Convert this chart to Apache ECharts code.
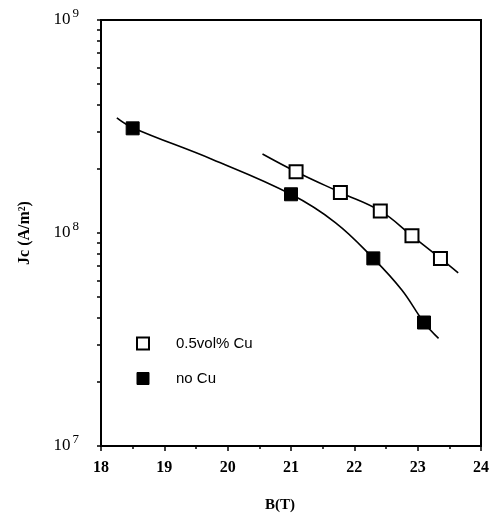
<!DOCTYPE html>
<html>
<head>
<meta charset="utf-8">
<script src="https://cdn.jsdelivr.net/npm/echarts@6/dist/echarts.min.js"></script>
<style>
  html, body { margin: 0; padding: 0; background: #fff; }
  #chart { width: 492px; height: 519px; }
</style>
</head>
<body>
<div id="chart"></div>
<script>
// Measured critical current density vs. field
const noCuB  = [18.5, 21.0, 22.3, 23.1];
const noCuJc = [3.1e8, 1.52e8, 7.6e7, 3.8e7];
const cuB    = [21.08, 21.78, 22.41, 22.91, 23.36];
const cuJc   = [1.94e8, 1.55e8, 1.27e8, 9.7e7, 7.6e7];

// Hand-drawn fit curves through each set
const noCuFitB  = [18.25, 18.5, 19.75, 21.0, 21.7, 22.3, 22.75, 23.1, 23.33];
const noCuFitJc = [3.47e8, 3.12e8, 2.22e8, 1.52e8, 1.12e8, 7.6e7, 5.4e7, 3.8e7, 3.2e7];
const cuFitB    = [20.55, 21.08, 21.78, 22.41, 22.91, 23.36, 23.64];
const cuFitJc   = [2.35e8, 1.94e8, 1.55e8, 1.27e8, 9.7e7, 7.6e7, 6.5e7];

// Axis ticks
const xTicks = [18, 19, 20, 21, 22, 23, 24];
const yMajor = [1e7, 1e8, 1e9];
const yMinor = [2e7, 3e7, 4e7, 5e7, 6e7, 7e7, 8e7, 9e7, 2e8, 3e8, 4e8, 5e8, 6e8, 7e8, 8e8, 9e8];

const serif = '"Liberation Serif", "DejaVu Serif", serif';
const sans = '"Liberation Sans", Arial, sans-serif';

const pair = (xs, ys) => xs.map((x, i) => [x, ys[i]]);

const chart = echarts.init(document.getElementById('chart'), null, { renderer: 'canvas' });

chart.setOption({
  backgroundColor: '#fff',
  animation: false,
  grid: {
    left: 101, right: 11, top: 20, bottom: 73,
    show: true, borderColor: '#000', borderWidth: 2, backgroundColor: 'transparent'
  },
  legend: {
    orient: 'vertical',
    left: 131, top: 331,
    itemWidth: 12, itemHeight: 12,
    itemGap: 20,
    textStyle: { fontFamily: sans, fontSize: 15, color: '#000', padding: [0, 0, 0, 22] },
    data: [
      { name: '0.5vol% Cu', icon: 'rect', itemStyle: { color: '#fff', borderColor: '#000', borderWidth: 2 } },
      { name: 'no Cu', icon: 'rect', itemStyle: { color: '#000', borderColor: '#000', borderWidth: 1 } }
    ]
  },
  xAxis: {
    type: 'value',
    min: xTicks[0], max: xTicks[xTicks.length - 1], interval: 1,
    name: 'B(T)', nameLocation: 'middle', nameGap: 52,
    nameTextStyle: { fontFamily: serif, fontSize: 15, fontWeight: 'bold', color: '#000', padding: [0, 22, 0, 0] },
    axisLine: { show: true, lineStyle: { color: '#000', width: 2 } },
    axisTick: { show: true, inside: false, length: 5, lineStyle: { color: '#000', width: 1.5 } },
    minorTick: { show: true, splitNumber: 2, length: 3, lineStyle: { color: '#000', width: 1.5 } },
    splitLine: { show: false },
    axisLabel: { fontFamily: serif, fontSize: 16, fontWeight: 'bold', color: '#000', margin: 14 }
  },
  yAxis: {
    type: 'log', logBase: 10,
    min: yMajor[0], max: yMajor[yMajor.length - 1],
    name: 'Jc (A/m²)', nameLocation: 'middle', nameGap: 68, nameRotate: 90,
    nameTextStyle: { fontFamily: serif, fontSize: 16, fontWeight: 'bold', color: '#000' },
    axisLine: { show: true, lineStyle: { color: '#000', width: 2 } },
    axisTick: {
      show: true, inside: false, length: 4,
      customValues: yMajor.concat(yMinor),
      lineStyle: { color: '#000', width: 1.5 }
    },
    splitLine: { show: false },
    axisLabel: {
      customValues: yMajor,
      margin: 22,
      formatter: v => '{b|10}{s|' + Math.round(Math.log10(v)) + '}',
      rich: {
        b: { fontFamily: serif, fontSize: 17, color: '#000' },
        s: { fontFamily: serif, fontSize: 13, color: '#000', padding: [0, 0, 12, 2] }
      }
    }
  },
  series: [
    {
      name: 'fit no Cu', type: 'line', smooth: 0.4, showSymbol: false, silent: true,
      data: pair(noCuFitB, noCuFitJc),
      lineStyle: { color: '#000', width: 1.6 }
    },
    {
      name: 'fit 0.5vol% Cu', type: 'line', smooth: 0.4, showSymbol: false, silent: true,
      data: pair(cuFitB, cuFitJc),
      lineStyle: { color: '#000', width: 1.6 }
    },
    {
      name: 'no Cu', type: 'scatter', symbol: 'rect', symbolSize: 13,
      data: pair(noCuB, noCuJc),
      itemStyle: { color: '#000', borderColor: '#000', borderWidth: 1, opacity: 1 },
      z: 5
    },
    {
      name: '0.5vol% Cu', type: 'scatter', symbol: 'rect', symbolSize: 13,
      data: pair(cuB, cuJc),
      itemStyle: { color: '#fff', borderColor: '#000', borderWidth: 2, opacity: 1 },
      z: 5
    }
  ]
});
</script>
</body>
</html>
